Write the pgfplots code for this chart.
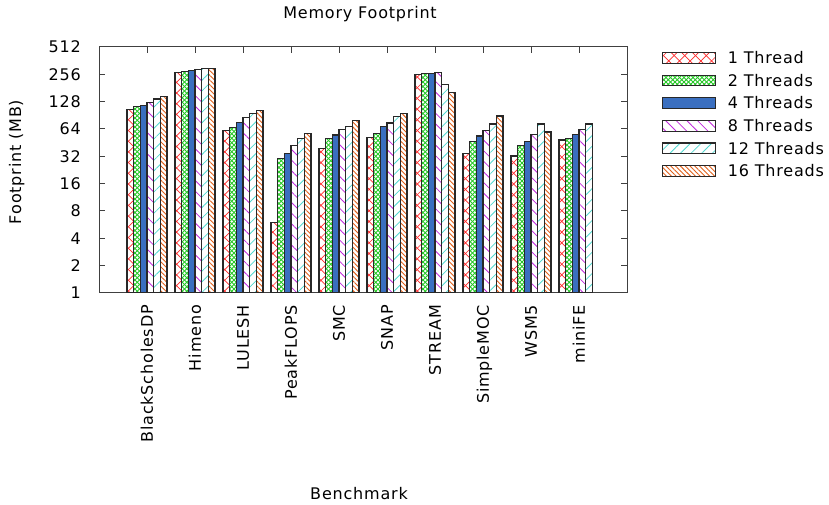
\documentclass[border=0pt]{standalone}
\usepackage{fontspec}
\setmainfont{DejaVu Sans}[LetterSpace=5]
\usepackage{pgfplots}
\pgfplotsset{compat=1.18}
\usetikzlibrary{patterns,patterns.meta}
\definecolor{cred}{RGB}{255,40,40}
\definecolor{cgreen}{RGB}{40,200,40}
\definecolor{cblue}{RGB}{58,111,192}
\definecolor{cmag}{RGB}{192,40,220}
\definecolor{ccyan}{RGB}{80,216,208}
\definecolor{corange}{RGB}{224,96,26}
\definecolor{edge}{RGB}{40,40,40}
\definecolor{axc}{RGB}{64,64,64}
\tikzdeclarepattern{name=xcross, type=uncolored,
  bottom left={(-0.5pt,-0.5pt)}, top right={(11.2pt,11.2pt)}, tile size={(10.7pt,10.7pt)},
  code={\draw[line width=0.7pt] (0pt,0pt)--(10.7pt,10.7pt) (0pt,10.7pt)--(10.7pt,0pt);}}
\tikzdeclarepattern{name=fcross, type=uncolored,
  bottom left={(-0.5pt,-0.5pt)}, top right={(5pt,5pt)}, tile size={(4.5pt,4.5pt)},
  code={\draw[line width=0.8pt] (0pt,0pt)--(4.5pt,4.5pt) (0pt,4.5pt)--(4.5pt,0pt);}}
\pgfplotstableread{
x t1 t2 t4 t8 t12
0 105 113 116 125 137
1 270 272 279 288 296
2 61 67 75 85 95
3 6.0 30 34.6 42.4 50
4 38.6 50 55 63.5 68
5 52 57.4 68 74.6 88.4
6 252 263 263 270 199
7 34.6 46.9 53.6 61.3 72.7
8 32.3 42.4 46.9 55.4 72.7
9 48.4 50 55.4 63.5 72.7
}\datatable
\pgfplotstableread{
x t16
0 147
1 296
2 102
3 57.4
4 80
5 95
6 162
7 89
8 59.3
}\datasixteen
\begin{document}
\begin{tikzpicture}
\useasboundingbox (0,0) rectangle (829pt,505pt);
\begin{axis}[
  at={(99pt,212pt)}, anchor=south west,
  scale only axis, width=528pt, height=246pt,
  font=\fontsize{16}{19}\selectfont,
  ybar, bar width=0.139,
  xmin=-1, xmax=10,
  ymode=log, log basis y=2, ymin=1, ymax=512,
  ytick={1,2,4,8,16,32,64,128,256,512},
  yticklabels={1,2,4,8,16,32,64,128,256,512},
  xtick={0,...,9},
  xticklabels={BlackScholesDP,Himeno,LULESH,PeakFLOPS,SMC,SNAP,STREAM,SimpleMOC,WSM5,miniFE},
  minor tick num=0,
  tick align=inside, major tick length=6pt,
  axis line style={draw=axc, line width=1pt},
  every tick/.style={draw=axc, line width=1pt},
  yticklabel style={anchor=east, inner sep=0pt, xshift=-18pt},
  xticklabel style={rotate=90, anchor=east, inner sep=0pt, inner xsep=12pt, text height=11.7pt, text depth=0pt},
  title={Memory Footprint},
  title style={at={(axis description cs:0.5,1)}, anchor=base, yshift=22pt, xshift=-3pt},
  xlabel={Benchmark},
  xlabel style={at={(axis description cs:0.5,0)}, anchor=base, yshift=-206pt, xshift=-4pt},
  ylabel={Footprint (MB)},
  ylabel style={at={(axis description cs:-0.1477,0.5325)}, anchor=base},
  legend style={at={(axis description cs:1,1)}, anchor=north west, xshift=34.7pt, yshift=-4.8pt,
    draw=none, fill=none, inner sep=0pt, outer sep=0pt, row sep=7.6pt, column sep=12pt,
    nodes={inner sep=0pt, text height=12pt, text depth=3pt, anchor=base west}},
  legend image code/.code={\draw[#1] (0pt,0.5pt) rectangle (53pt,11.2pt);},
  every axis plot/.append style={draw=edge, line width=1.1pt},
]
\addplot[bar shift=-0.3475, pattern=xcross, pattern color=cred] table[x=x,y=t1] {\datatable};
\addplot[bar shift=-0.2085, pattern=fcross, pattern color=cgreen] table[x=x,y=t2] {\datatable};
\addplot[bar shift=-0.0695, fill=cblue] table[x=x,y=t4] {\datatable};
\addplot[bar shift=0.0695, pattern={Lines[angle=-45,distance=7.5pt,line width=0.8pt]}, pattern color=cmag] table[x=x,y=t8] {\datatable};
\addplot[bar shift=0.2085, pattern={Lines[angle=45,distance=7.5pt,line width=0.8pt]}, pattern color=ccyan] table[x=x,y=t12] {\datatable};
\addplot[bar shift=0.3475, pattern={Lines[angle=-45,distance=3.4pt,line width=0.9pt]}, pattern color=corange] table[x=x,y=t16] {\datasixteen};
\legend{1 Thread,2 Threads,4 Threads,8 Threads,12 Threads,16 Threads}
\end{axis}
\end{tikzpicture}
\end{document}
